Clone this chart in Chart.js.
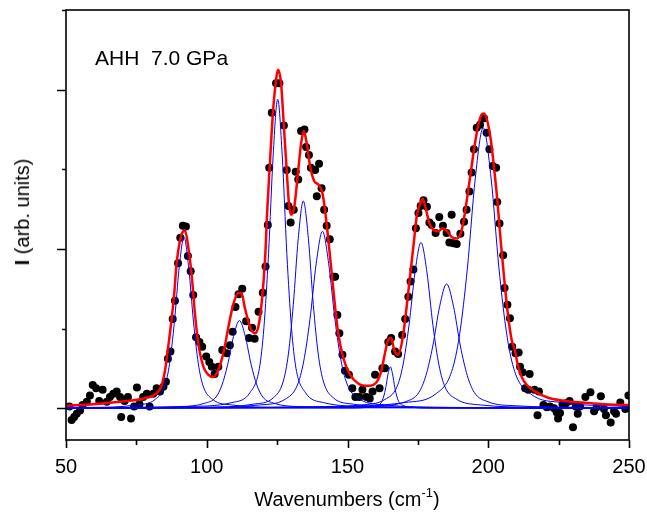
<!DOCTYPE html>
<html>
<head>
<meta charset="utf-8">
<script src="https://cdn.jsdelivr.net/npm/chart.js@4.4.1/dist/chart.umd.min.js"></script>
<style>
  html, body { margin: 0; padding: 0; background: #fff; }
  #wrap { position: relative; width: 647px; height: 512px; font-family: "Liberation Sans", Arial, sans-serif; color: #000; }
  #wrap canvas { position: absolute; left: 0; top: 0; }
  .lbl { position: absolute; white-space: pre; }
  #note { left: 95px; top: 47px; font-size: 21px; line-height: 21px; }
  #xtitle { left: 347px; top: 484px; font-size: 20px; line-height: 20px; transform: translateX(-50%); }
  #xtitle sup { font-size: 13px; position: relative; top: -1px; }
  #ytitle { left: 22px; top: 212px; font-size: 20px; line-height: 20px; transform: translate(-50%, -50%) rotate(-90deg); }
</style>
</head>
<body>
<div id="wrap">
  <canvas id="ramanChart" width="647" height="512"></canvas>
  <div class="lbl" id="note">AHH  7.0 GPa</div>
  <div class="lbl" id="xtitle">Wavenumbers (cm<sup>-1</sup>)</div>
  <div class="lbl" id="ytitle"><b>I</b> (arb. units)</div>
</div>
<script>
// measured spectrum (dots)
var dataX = [51.2, 52.0, 52.9, 53.8, 55.0, 55.9, 57.4, 58.5, 59.5, 60.7, 61.8, 63.0, 64.5, 65.6, 66.8, 68.0, 69.2, 69.6, 70.8, 72.0,
  73.1, 74.2, 75.2, 76.1, 77.4, 78.7, 79.7, 81.0, 82.2, 83.4, 84.6, 85.5, 86.2, 87.1, 87.9, 88.7, 89.8, 90.6, 91.5, 92.6,
  93.3, 94.3, 95.2, 96.2, 97.4, 98.4, 99.8, 100.9, 101.8, 102.8, 104.1, 105.5, 107.1, 108.2, 109.2, 110.2, 111.3, 112.6, 114.0, 115.0,
  116.1, 117.0, 118.4, 119.9, 120.9, 121.7, 122.2, 123.1, 124.6, 125.8, 127.4, 128.4, 129.0, 129.8, 130.9, 131.6, 132.5, 133.5, 134.7, 135.3,
  136.3, 137.0, 138.5, 139.1, 139.9, 140.8, 141.7, 142.6, 143.7, 145.0, 145.6, 146.4, 147.1, 148.2, 149.1, 150.5, 151.7, 152.8, 154.2, 155.3,
  156.7, 157.9, 158.9, 159.8, 161.4, 162.4, 163.3, 164.5, 165.5, 166.9, 168.0, 169.4, 170.5, 171.6, 172.4, 173.4, 174.3, 175.2, 176.0, 177.0,
  178.2, 179.1, 179.9, 181.3, 182.6, 183.9, 185.2, 186.2, 187.0, 187.6, 188.8, 190.1, 191.4, 192.3, 193.3, 194.1, 194.9, 195.9, 197.1, 198.5,
  199.4, 200.4, 201.6, 202.8, 203.2, 204.0, 205.3, 205.8, 206.8, 207.7, 208.5, 209.7, 210.8, 211.3, 212.2, 213.1, 214.2, 214.7, 216.4, 217.5,
  218.0, 219.6, 220.8, 221.9, 223.4, 224.3, 224.8, 225.5, 226.4, 227.6, 228.9, 230.1, 231.1, 231.8, 232.6, 234.5, 236.3, 237.6, 238.5, 240.0,
  241.1, 241.8, 243.5, 244.7, 245.4, 246.9, 248.7, 249.8];
var dataY = [0.02, -0.15, -0.11, -0.07, -0.03, 0.04, 0.08, 0.16, 0.29, 0.25, 0.09, 0.23, 0.08, 0.14, 0.18, 0.21, 0.14, -0.11, 0.09, 0.14,
  -0.13, 0.02, 0.26, 0.05, 0.14, 0.18, 0.02, 0.18, 0.25, 0.21, 0.27, 0.33, 0.62, 0.71, 1.12, 1.35, 1.82, 2.14, 2.29, 2.28,
  1.91, 1.72, 1.42, 0.89, 0.83, 0.77, 0.65, 0.58, 0.52, 0.43, 0.52, 0.73, 0.69, 0.79, 0.96, 1.27, 1.43, 1.50, 1.09, 0.88,
  1.01, 0.87, 1.21, 1.45, 1.78, 2.30, 3.02, 3.71, 4.08, 4.08, 3.55, 2.99, 2.54, 2.33, 2.49, 2.97, 2.87, 3.48, 3.50, 3.28,
  3.18, 3.02, 2.99, 2.66, 3.07, 2.76, 2.49, 2.29, 2.12, 1.65, 1.65, 1.17, 0.94, 0.67, 0.47, 0.42, 0.25, 0.14, 0.14, 0.23,
  0.14, 0.12, 0.21, 0.42, 0.25, 0.50, 0.50, 0.83, 0.88, 0.71, 0.68, 0.92, 1.12, 1.40, 1.59, 1.74, 2.26, 2.45, 2.54, 2.61,
  2.53, 2.33, 2.30, 2.20, 2.40, 2.29, 2.20, 2.08, 2.43, 2.07, 2.06, 2.19, 2.34, 2.49, 2.72, 2.96, 3.25, 3.52, 3.56, 3.64,
  3.46, 3.25, 3.04, 3.02, 2.59, 2.32, 1.92, 1.51, 1.30, 1.13, 0.77, 0.69, 0.70, 0.52, 0.45, 0.25, 0.23, 0.43, 0.23, -0.09,
  0.21, 0.04, 0.01, 0.02, 0.00, -0.05, -0.13, -0.06, 0.05, 0.06, 0.09, -0.24, 0.02, -0.07, 0.02, 0.14, 0.20, -0.04, 0.01, 0.15,
  -0.01, -0.09, -0.18, -0.04, -0.07, 0.07, -0.01, 0.16];

// total fit (red)
var fitX = [50, 59.7, 71.6, 78.7, 82.2, 84.0, 85.2, 86.3, 87.5, 88.4, 89.3, 90.5, 91.4, 92.3, 93.4, 94.7, 95.8, 97.0, 98.8, 100.5,
  102.3, 104.1, 105.9, 107.7, 109.4, 111.2, 112.4, 113.6, 115.4, 117.1, 118.3, 119.5, 120.7, 121.5, 122.5, 123.6, 124.8, 125.4, 126.4, 127.4,
  128.4, 129.2, 129.9, 131.1, 132.5, 133.7, 134.5, 135.5, 136.7, 138.2, 139.6, 141.1, 142.0, 143.2, 144.4, 145.6, 146.7, 148.5, 150.9, 153.8,
  157.4, 160.4, 162.1, 163.3, 164.5, 165.5, 166.6, 168.0, 169.6, 171.0, 172.2, 173.4, 174.6, 175.8, 176.7, 177.9, 179.1, 180.5, 182.3, 183.8,
  185.2, 187.0, 189.0, 190.6, 191.7, 192.9, 194.1, 195.3, 196.5, 197.7, 198.5, 199.7, 200.9, 202.0, 203.2, 204.4, 205.6, 206.8, 208.3, 209.5,
  210.5, 211.9, 213.7, 216.6, 221.3, 227.3, 233.2, 241.5, 250];
var fitY = [0.03, 0.05, 0.09, 0.13, 0.19, 0.29, 0.48, 0.77, 1.11, 1.42, 1.82, 2.11, 2.21, 2.23, 2.03, 1.65, 1.19, 0.81, 0.52, 0.42,
  0.39, 0.48, 0.69, 1.02, 1.30, 1.45, 1.44, 1.25, 1.02, 0.94, 1.02, 1.32, 1.86, 2.49, 3.12, 3.75, 4.17, 4.25, 4.08, 3.54,
  2.99, 2.57, 2.43, 2.53, 2.99, 3.37, 3.48, 3.33, 3.04, 2.85, 2.81, 2.70, 2.49, 2.11, 1.69, 1.27, 0.94, 0.63, 0.42, 0.31,
  0.28, 0.33, 0.48, 0.69, 0.86, 0.88, 0.73, 0.67, 0.88, 1.27, 1.65, 2.03, 2.41, 2.57, 2.63, 2.49, 2.32, 2.24, 2.22, 2.26,
  2.23, 2.15, 2.13, 2.24, 2.45, 2.74, 3.04, 3.33, 3.56, 3.69, 3.70, 3.60, 3.37, 3.04, 2.62, 2.11, 1.65, 1.23, 0.86, 0.72,
  0.54, 0.39, 0.29, 0.21, 0.13, 0.09, 0.07, 0.05, 0.04];

// fitted components (blue), one pair of arrays per band
var band92X = [50, 57.9, 74.9, 81.7, 85.1, 86.8, 88.5, 90.2, 91.9, 93.6, 95.3, 97.0, 98.7, 102.1, 108.9, 125.9, 250];
var band92Y = [0.01, 0.01, 0.04, 0.11, 0.28, 0.56, 1.08, 1.76, 2.15, 1.76, 1.08, 0.56, 0.28, 0.11, 0.04, 0.01, 0];
var band112X = [50, 70.1, 90.85, 99.15, 103.3, 105.4, 107.45, 109.5, 111.6, 113.7, 115.75, 117.8, 119.9, 124.05, 132.35, 153.1, 250];
var band112Y = [0, 0.01, 0.02, 0.06, 0.14, 0.29, 0.55, 0.90, 1.10, 0.90, 0.55, 0.29, 0.14, 0.06, 0.02, 0.01, 0];
var band125X = [50, 92.7, 108.95, 115.45, 118.7, 120.3, 121.95, 123.6, 125.2, 126.8, 128.45, 130.1, 131.7, 134.95, 141.45, 157.7, 250];
var band125Y = [0, 0.02, 0.07, 0.20, 0.50, 1.01, 1.94, 3.18, 3.88, 3.18, 1.94, 1.01, 0.50, 0.20, 0.07, 0.02, 0];
var band134X = [50, 98.8, 116.55, 123.65, 127.2, 129.0, 130.75, 132.5, 134.3, 136.1, 137.85, 139.6, 141.4, 144.95, 152.05, 169.8, 250];
var band134Y = [0, 0.01, 0.05, 0.13, 0.34, 0.68, 1.30, 2.13, 2.60, 2.13, 1.30, 0.68, 0.34, 0.13, 0.05, 0.01, 0];
var band141X = [50, 96.6, 118.85, 127.75, 132.2, 134.4, 136.65, 138.9, 141.1, 143.3, 145.55, 147.8, 150.0, 154.45, 163.35, 185.6, 250];
var band141Y = [0, 0.01, 0.04, 0.11, 0.29, 0.58, 1.11, 1.82, 2.22, 1.82, 1.11, 0.58, 0.29, 0.11, 0.04, 0.01, 0];
var band165X = [50, 149.2, 157.2, 160.4, 162.0, 162.8, 163.6, 164.4, 165.2, 166.0, 166.8, 167.6, 168.4, 170.0, 173.2, 181.2, 250];
var band165Y = [0, 0, 0.01, 0.03, 0.07, 0.14, 0.26, 0.43, 0.52, 0.43, 0.26, 0.14, 0.07, 0.03, 0.01, 0, 0];
var band176X = [50, 133.6, 154.85, 163.35, 167.6, 169.7, 171.85, 174.0, 176.1, 178.2, 180.35, 182.5, 184.6, 188.85, 197.35, 218.6, 250];
var band176Y = [0, 0.01, 0.04, 0.11, 0.27, 0.54, 1.04, 1.71, 2.08, 1.71, 1.04, 0.54, 0.27, 0.11, 0.04, 0.01, 0];
var band185X = [50, 136.2, 160.7, 170.5, 175.4, 177.85, 180.3, 182.75, 185.2, 187.65, 190.1, 192.55, 195.0, 199.9, 209.7, 234.2, 250];
var band185Y = [0, 0.01, 0.03, 0.08, 0.20, 0.41, 0.78, 1.28, 1.56, 1.28, 0.78, 0.41, 0.20, 0.08, 0.03, 0.01, 0];
var band198X = [50, 142.2, 170.2, 181.4, 187.0, 189.8, 192.6, 195.4, 198.2, 201.0, 203.8, 206.6, 209.4, 215.0, 226.2, 250];
var band198Y = [0, 0.02, 0.07, 0.18, 0.46, 0.92, 1.76, 2.89, 3.52, 2.89, 1.76, 0.92, 0.46, 0.18, 0.07, 0.02];

// axis ticks
var xMajorTicks = [50, 100, 150, 200, 250];
var xMinorTicks = [75, 125, 175, 225];
var yMajorTicks = [0, 2, 4];
var yMinorTicks = [1, 3, 5];

(function () {
  function pairs(xs, ys) {
    var out = [];
    for (var i = 0; i < xs.length; i++) out.push({ x: xs[i], y: ys[i] });
    return out;
  }

  function bandSet(xs, ys) {
    return {
      data: pairs(xs, ys),
      showLine: true,
      borderColor: '#0000ff',
      borderWidth: 1,
      pointRadius: 0,
      cubicInterpolationMode: 'monotone',
      order: 1
    };
  }

  var frameTicks = {
    id: 'frameTicks',
    afterDraw: function (chart) {
      var ctx = chart.ctx, a = chart.chartArea;
      var xs = chart.scales.x, ys = chart.scales.y;
      ctx.save();
      ctx.strokeStyle = '#000';
      ctx.lineWidth = 1.6;
      ctx.strokeRect(a.left, a.top, a.right - a.left, a.bottom - a.top);
      ctx.beginPath();
      xMajorTicks.forEach(function (v) {
        var p = Math.round(xs.getPixelForValue(v)) + 0.5;
        ctx.moveTo(p, a.bottom); ctx.lineTo(p, a.bottom + 8);
      });
      xMinorTicks.forEach(function (v) {
        var p = Math.round(xs.getPixelForValue(v)) + 0.5;
        ctx.moveTo(p, a.bottom); ctx.lineTo(p, a.bottom + 5);
      });
      yMajorTicks.forEach(function (v) {
        var p = Math.round(ys.getPixelForValue(v)) + 0.5;
        ctx.moveTo(a.left, p); ctx.lineTo(a.left - 9, p);
      });
      yMinorTicks.forEach(function (v) {
        var p = Math.round(ys.getPixelForValue(v)) + 0.5;
        ctx.moveTo(a.left, p); ctx.lineTo(a.left - 4, p);
      });
      ctx.stroke();
      ctx.restore();
    }
  };

  var datasets = [
    {
      data: pairs(fitX, fitY),
      showLine: true,
      borderColor: '#ff0000',
      borderWidth: 2.5,
      pointRadius: 0,
      cubicInterpolationMode: 'monotone',
      order: 0
    },
    bandSet(band92X, band92Y),
    bandSet(band112X, band112Y),
    bandSet(band125X, band125Y),
    bandSet(band134X, band134Y),
    bandSet(band141X, band141Y),
    bandSet(band165X, band165Y),
    bandSet(band176X, band176Y),
    bandSet(band185X, band185Y),
    bandSet(band198X, band198Y),
    {
      data: pairs(dataX, dataY),
      showLine: false,
      pointRadius: 4,
      pointBorderWidth: 0,
      pointBackgroundColor: '#000',
      order: 2
    }
  ];

  new Chart(document.getElementById('ramanChart'), {
    type: 'scatter',
    data: { datasets: datasets },
    options: {
      responsive: false,
      animation: false,
      events: [],
      layout: { padding: { top: 10, right: 18, left: 0, bottom: 0 } },
      plugins: { legend: { display: false }, tooltip: { enabled: false } },
      scales: {
        x: {
          type: 'linear',
          min: 50,
          max: 250,
          afterFit: function (s) { s.height = 72; s.paddingLeft = 0; s.paddingRight = 0; },
          afterBuildTicks: function (s) { s.ticks = xMajorTicks.map(function (v) { return { value: v }; }); },
          grid: { display: false },
          border: { display: false },
          ticks: { color: '#000', padding: 7, maxRotation: 0, font: { family: '"Liberation Sans", Arial, sans-serif', size: 20 } }
        },
        y: {
          type: 'linear',
          min: -0.4,
          max: 5,
          afterFit: function (s) { s.width = 66; s.paddingTop = 0; s.paddingBottom = 0; },
          grid: { display: false },
          border: { display: false },
          ticks: { display: false }
        }
      }
    },
    plugins: [frameTicks]
  });
})();
</script>
</body>
</html>
